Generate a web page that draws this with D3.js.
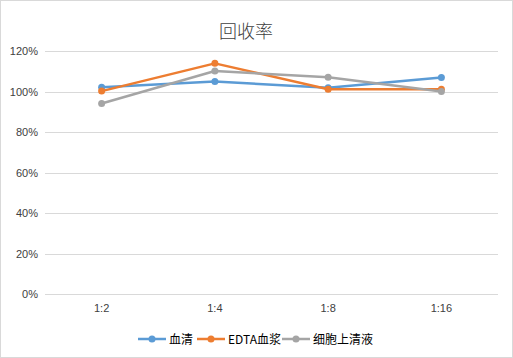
<!DOCTYPE html>
<html><head><meta charset="utf-8">
<script src="https://cdn.jsdelivr.net/npm/d3@7"></script>
<style>body{margin:0;background:#fff}svg{display:block}</style>
</head><body>
<svg id="c" width="513" height="358"></svg>
<script>
const categories = ["1:2","1:4","1:8","1:16"];
const seriesNames = ["血清","EDTA血浆","细胞上清液"];
const serum = [102.1, 104.9, 101.9, 106.9];
const edta = [100.2, 113.9, 101.1, 101.1];
const cell = [94.1, 110.1, 107.0, 100.0];
const yTicks = [0,20,40,60,80,100,120];
const colors = ["#5B9BD5","#ED7D31","#A5A5A5"];
const seriesData = [serum, edta, cell];

(function(){
const svg = d3.select("#c");
const W=513,H=358;
svg.append("rect").attr("x",0.5).attr("y",0.5).attr("width",W-1).attr("height",H-1)
  .attr("fill","#fff").attr("stroke","#d9d9d9");
const pl=45,pr=498,pt=51,pb=294;
const x = d3.scaleBand().domain(categories).range([pl,pr]);
const y = d3.scaleLinear().domain([0,120]).range([pb,pt]);
const font = "'Liberation Sans','DejaVu Sans',sans-serif";

svg.append("text").attr("x",246).attr("y",38).attr("text-anchor","middle")
  .attr("font-family","'Noto Sans CJK SC'").attr("font-weight",300).attr("font-size",18).attr("fill","#404040").text("回收率");

const gy = svg.append("g").attr("transform",`translate(${pl},0)`)
  .call(d3.axisLeft(y).tickValues(yTicks).tickSize(-(pr-pl)).tickFormat(d=>d+"%"));
gy.select(".domain").remove();
gy.selectAll(".tick line").attr("stroke","#d9d9d9").attr("shape-rendering","crispEdges");
gy.selectAll(".tick text").attr("x",-7).attr("fill","#404040").attr("font-size",11).attr("font-family",font);

const gx = svg.append("g").attr("transform",`translate(0,${pb})`)
  .call(d3.axisBottom(x).tickSize(0));
gx.select(".domain").remove();
gx.selectAll(".tick text").attr("dy",0).attr("y",18).attr("fill","#404040").attr("font-size",11).attr("font-family",font);

const line = d3.line().x((d,i)=>x(categories[i])+x.bandwidth()/2).y(d=>y(d));
seriesData.forEach((s,k)=>{
  svg.append("path").datum(s).attr("d",line).attr("fill","none").attr("stroke",colors[k]).attr("stroke-width",2.5).attr("stroke-linejoin","round");
  svg.selectAll(null).data(s).enter().append("circle")
    .attr("cx",(d,i)=>x(categories[i])+x.bandwidth()/2).attr("cy",d=>y(d)).attr("r",3.5).attr("fill",colors[k]);
});

const lg = svg.append("g");
const legendX = [138,197,282];
seriesNames.forEach((n,k)=>{
  const g = lg.append("g").attr("transform",`translate(${legendX[k]},339)`);
  g.append("line").attr("x1",0).attr("x2",28).attr("y1",0).attr("y2",0).attr("stroke",colors[k]).attr("stroke-width",2.5);
  g.append("circle").attr("cx",14).attr("cy",0).attr("r",3.5).attr("fill",colors[k]);
  g.append("text").attr("x",31).attr("y",4.5).attr("font-size",12).attr("fill","#000")
    .attr("font-family","'Noto Sans CJK SC',sans-serif").text(n);
});
})();
</script>
</body></html>
